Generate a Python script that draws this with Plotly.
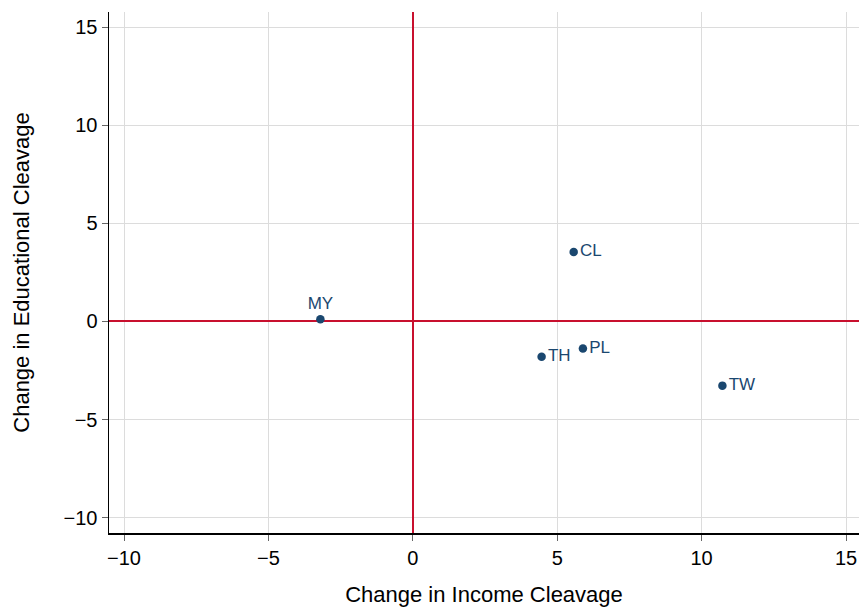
import plotly.graph_objects as go

countries = ["MY", "CL", "TH", "PL", "TW"]
income_change = [-3.20, 5.57, 4.46, 5.89, 10.72]
edu_change = [0.11, 3.54, -1.80, -1.38, -3.27]
label_pos = ["top center", "middle right", "middle right", "middle right", "middle right"]
tick_vals = [-10, -5, 0, 5, 10, 15]

navy = "#1a476f"
red = "#c8102e"

fig = go.Figure()
fig.add_trace(go.Scatter(
    x=income_change, y=edu_change, mode="markers+text",
    text=countries, textposition=label_pos,
    textfont=dict(color=navy, size=17, family="Liberation Sans, Arial, sans-serif"),
    marker=dict(color=navy, size=8.5),
    showlegend=False, cliponaxis=False, hoverinfo="skip",
))

axis_common = dict(
    tickvals=tick_vals, showgrid=True, gridcolor="#dcdcdc", gridwidth=1,
    zeroline=True, zerolinecolor=red, zerolinewidth=2,
    showline=True, linecolor="black", linewidth=1.5, mirror=False,
    ticks="outside", ticklen=6, tickcolor="#666666",
    tickfont=dict(size=20, color="black"),
)
fig.update_xaxes(range=[-10.52, 15.45],
                 title=dict(text="Change in Income Cleavage", font=dict(size=22), standoff=20),
                 **axis_common)
fig.update_yaxes(range=[-10.78, 15.77],
                 title=dict(text="Change in Educational Cleavage", font=dict(size=22), standoff=28),
                 **axis_common)

fig.update_layout(
    width=859, height=607,
    margin=dict(l=109, r=0, t=12, b=74),
    plot_bgcolor="white", paper_bgcolor="white",
    font=dict(family="Liberation Sans, Arial, sans-serif", color="black"),
    hovermode=False,
)
fig.write_html("out.html", config={"displayModeBar": False, "staticPlot": True},
               post_script="document.body.style.margin='0';document.body.style.overflow='hidden';")
